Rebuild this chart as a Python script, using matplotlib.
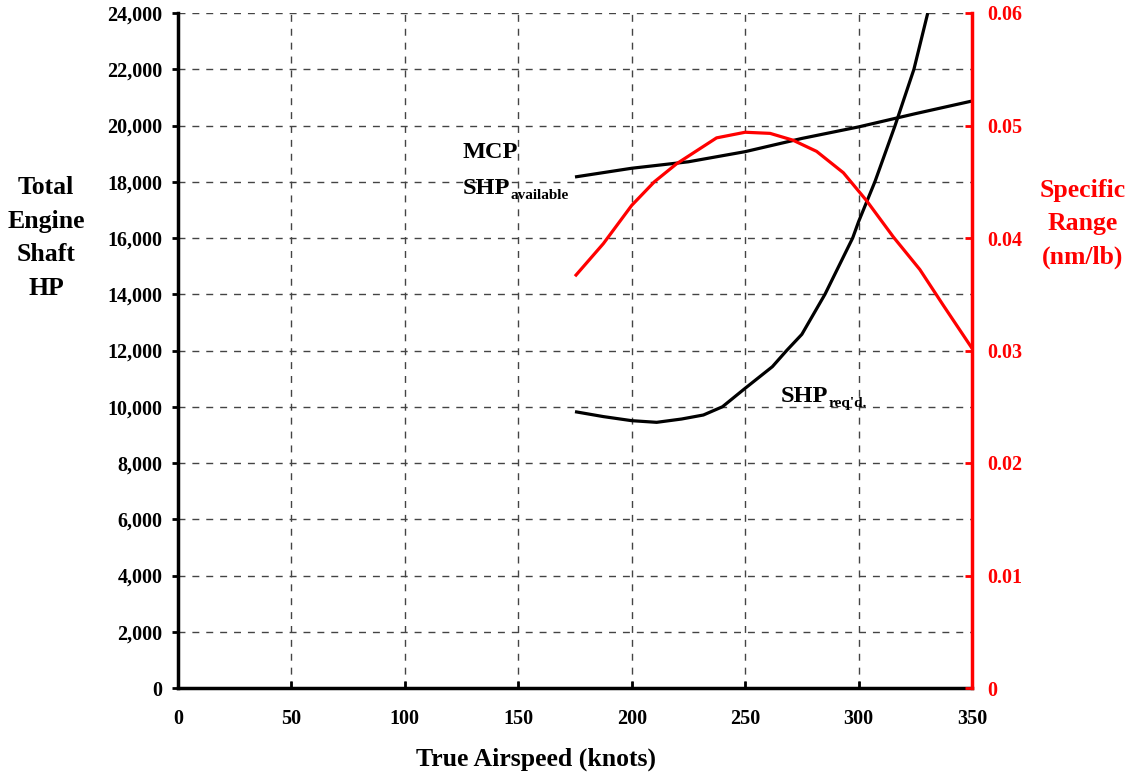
import numpy as np
import matplotlib
matplotlib.use('Agg')
import matplotlib.pyplot as plt

# airspeed (knots) vs. power (shp) and specific range (nm/lb)
mcp_speed = [175, 200, 225, 250, 275, 300, 325, 350]
mcp_shp = [18170, 18480, 18710, 19070, 19540, 19950, 20420, 20870]

req_speed = [175, 187.5, 200, 211, 222, 231.6, 240, 250, 262, 268.3, 275, 285.2, 297.4,
             300, 307.2, 316.1, 324.4, 330.5]
req_shp = [9825, 9650, 9505, 9446, 9564, 9707, 10000, 10656, 11425, 12000, 12575, 14000, 16000,
           16580, 18000, 20000, 22000, 24000]

sr_speed = [175, 187.5, 200, 210, 219.8, 237.4, 250, 261, 271, 281.5, 293.3, 303.6, 315.3, 327, 337.4, 350]
sr_val = [0.0366, 0.0395, 0.0429, 0.0450, 0.0466, 0.0489, 0.0494, 0.0493, 0.0487, 0.0477, 0.0458,
          0.0433, 0.0401, 0.0372, 0.0340, 0.0302]

x_ticks = [0, 50, 100, 150, 200, 250, 300, 350]
y_ticks = list(range(0, 24001, 2000))
sr_ticks = [0, 0.01, 0.02, 0.03, 0.04, 0.05, 0.06]

plt.rcParams['font.family'] = ['Liberation Serif', 'DejaVu Serif']
plt.rcParams['font.weight'] = 'bold'

fig = plt.figure(figsize=(11.32, 7.72), dpi=100)
ax = fig.add_axes([178/1132, 1-688/772, 794/1132, 675/772])
ax2 = ax.twinx()

ax.plot(mcp_speed, mcp_shp, color='black', lw=2.3, solid_capstyle='butt')
ax.plot(req_speed, req_shp, color='black', lw=2.3, solid_capstyle='butt')
ax2.plot(sr_speed, sr_val, color='#ff0000', lw=2.3, solid_capstyle='butt')

ax.set_xlim(0, 350)
ax.set_ylim(0, 24000)
ax2.set_ylim(0, 0.06)

ax.set_xticks(x_ticks)
ax.set_yticks(y_ticks)
ax.set_yticklabels(['{:,}'.format(v) for v in y_ticks])
ax2.set_yticks(sr_ticks)
ax2.set_yticklabels(['0' if v == 0 else '{:.2f}'.format(v) for v in sr_ticks])

ax.grid(True, color='#444444', linestyle=(0, (5, 5)), lw=1.0)
ax.set_axisbelow(True)

for a in (ax, ax2):
    a.spines['top'].set_visible(False)
ax.spines['left'].set_linewidth(2.5)
ax.spines['bottom'].set_linewidth(2.5)
ax.spines['right'].set_visible(False)
ax2.spines['left'].set_visible(False)
ax2.spines['bottom'].set_visible(False)
ax2.spines['right'].set_color('#ff0000')
ax2.spines['right'].set_linewidth(2.5)

ax.tick_params(axis='y', direction='out', length=4, width=2, labelsize=14.5, pad=7)
ax.tick_params(axis='x', direction='in', length=5, width=2, labelsize=14.5, pad=15)
ax2.tick_params(axis='y', direction='in', length=5, width=2, colors='#ff0000', labelsize=14.5, pad=11)

fig.text(536/1132, 1-759/772, 'True Airspeed (knots)', ha='center', va='center',
         fontsize=18.5, fontweight='bold')

fig.text(46/1132, 1-238/772, 'Total\nEngine\nShaft\nHP', ha='center', va='center',
         fontsize=18.5, fontweight='bold', linespacing=1.58)
fig.text(1083/1132, 1-224/772, 'Specific\nRange\n(nm/lb)', ha='center', va='center',
         fontsize=18.5, fontweight='bold', color='#ff0000', linespacing=1.58)

mcp_lbl = fig.text(463/1132, 1-153/772, 'MCP', fontsize=17.5, fontweight='bold', va='center')
t1 = fig.text(463/1132, 1-188/772, 'SHP', fontsize=17.5, fontweight='bold', va='center')
ax.annotate('available', xy=(1, 0.15), xycoords=t1, fontsize=11, fontweight='bold', va='center')
t2 = fig.text(781/1132, 1-396/772, 'SHP', fontsize=17.5, fontweight='bold', va='center')
ax.annotate("req'd.", xy=(1, 0.15), xycoords=t2, fontsize=11, fontweight='bold', va='center')

fig.savefig('out.png', dpi=100)
